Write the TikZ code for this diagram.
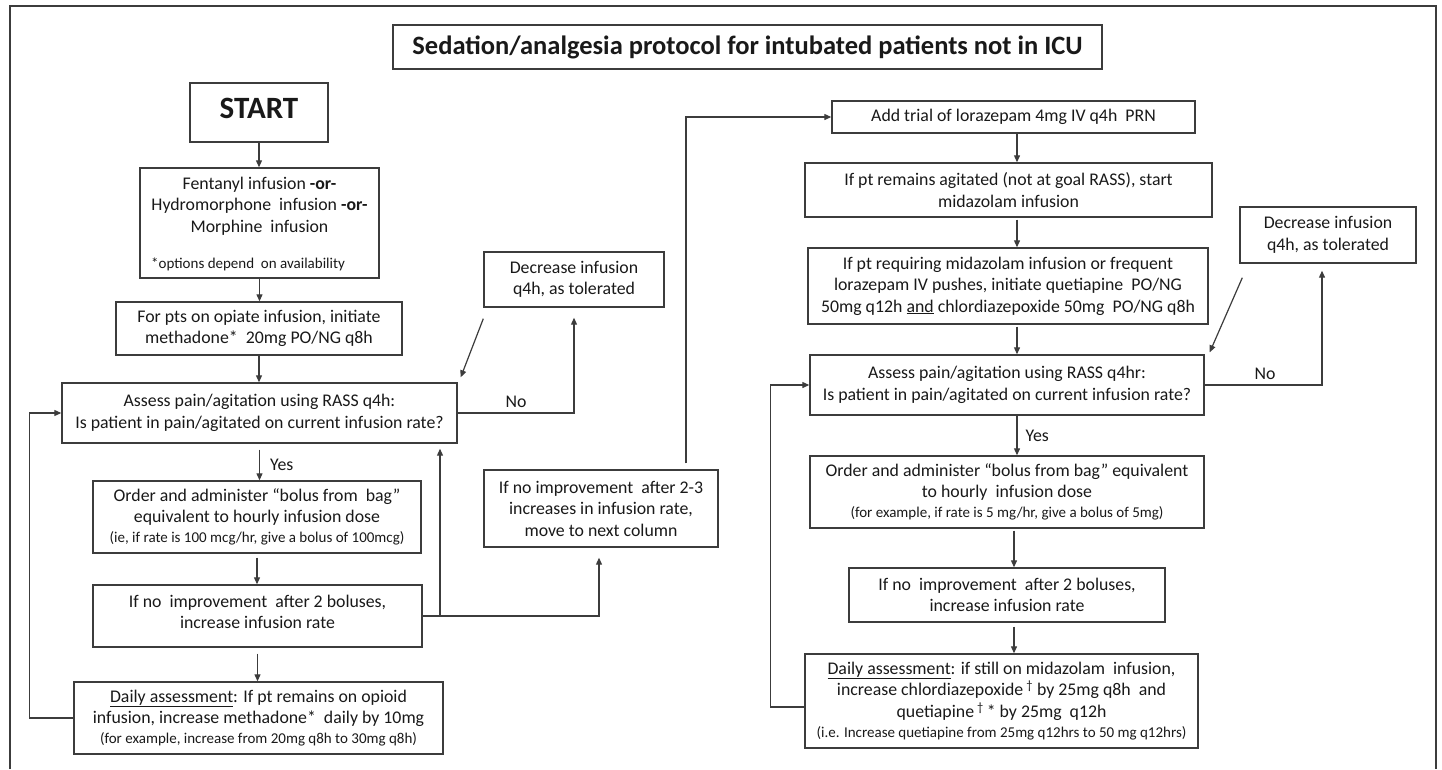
\documentclass[tikz,border=0pt]{standalone}
\usepackage{fontspec}
\setmainfont{Carlito}
\usetikzlibrary{arrows.meta,calc}
\definecolor{linec}{RGB}{60,60,60}
\definecolor{txtc}{RGB}{25,25,25}
\newcommand\bodyfnt{\fontsize{17.8}{21.5}\selectfont}
\newcommand\smallfnt{\fontsize{15}{18}\selectfont}
\newcommand\titlefnt{\fontsize{26.5}{30}\selectfont\bfseries}
\newcommand\startfnt{\fontsize{31}{34}\selectfont\bfseries}
\begin{document}
\begin{tikzpicture}[x=1pt,y=-1pt,
  box/.style={draw=linec, line width=1.4pt, fill=white, align=center, inner sep=0pt, text=txtc, font=\bodyfnt},
  txt/.style={align=center, inner sep=0pt, text=txtc, font=\bodyfnt},
  arr/.style={draw=linec, line width=1.2pt, -{Triangle[length=7pt,width=6pt]}},
  ln/.style={draw=linec, line width=1.2pt}]
\useasboundingbox (0,0) rectangle (1442,769);
\fill[white] (0,0) rectangle (1442,769);
% outer frame
\draw[draw=linec, line width=1.5pt] (10,769) -- (10,6) -- (1436,6) -- (1436,769);

% title
\node[box, font=\titlefnt, minimum width=709, minimum height=44] (title) at (747.5,47) {Sedation/analgesia protocol for intubated patients not in ICU};

% left column
\node[box, minimum width=138, minimum height=59] (start) at (259,112.5) {};
\node[txt, font=\startfnt] (starttxt) at (259,108) {START};
\node[box, minimum width=239, minimum height=110] (fent) at (259.5,223) {};
\node[txt] (fenttxt) at (259.5,206) {Fentanyl infusion \textbf{-or-}\\Hydromorphone\ \ infusion \textbf{-or-}\\Morphine\ \ infusion};
\node[txt, font=\smallfnt, anchor=west] (fentnote) at (151,264) {*options depend\ \ on availability};
\node[box, minimum width=286, minimum height=53] (meth) at (259,328.5) {For pts on opiate infusion, initiate\\methadone*\ \ 20mg PO/NG q8h};
\node[box, minimum width=180, minimum height=55] (decL) at (574,279.5) {Decrease infusion\\q4h, as tolerated};
\node[box, minimum width=395, minimum height=60] (assessL) at (259.5,413) {Assess pain/agitation using RASS q4h:\\Is patient in pain/agitated on current\ infusion rate?};
\node[box, minimum width=328, minimum height=72] (orderL) at (257,517) {Order and administer ``bolus from\ \ bag''\\equivalent to hourly infusion dose\\[-1.5pt]{\smallfnt (ie, if rate is 100 mcg/hr, give a bolus of 100mcg)}};
\node[box, minimum width=329, minimum height=62] (noimpL) at (257.5,616) {};
\node[txt] (noimpLtxt) at (257.5,612) {If no\ \ improvement\ \ after 2 boluses,\\increase infusion rate};
\node[box, minimum width=369, minimum height=72] (dailyL) at (258.5,718) {\underline{Daily assessment}: If pt remains on opioid\\infusion, increase methadone*\ \ daily by 10mg\\[-1.5pt]{\smallfnt (for example, increase from 20mg q8h to 30mg q8h)}};
\node[box, minimum width=234, minimum height=77] (next) at (601,508.5) {If no improvement\ \ after 2-3\\increases in infusion rate,\\move to next column};

% right column
\node[box, minimum width=363, minimum height=32] (add) at (1013.5,117) {Add trial of lorazepam 4mg IV q4h\ \ PRN};
\node[box, minimum width=407, minimum height=54] (remain) at (1008.5,190) {If pt remains agitated (not at goal RASS), start\\midazolam infusion};
\node[box, minimum width=400, minimum height=76] (require) at (1008,286) {If pt requiring midazolam infusion or frequent\\lorazepam IV pushes, initiate quetiapine\ \ PO/NG\\50mg q12h \underline{and} chlordiazepoxide 50mg\ \ PO/NG q8h};
\node[box, minimum width=176, minimum height=56] (decR) at (1328,235) {Decrease infusion\\q4h, as tolerated};
\node[box, minimum width=394, minimum height=60] (assessR) at (1007,385) {Assess pain/agitation using RASS q4hr:\\Is patient in pain/agitated on current infusion rate?};
\node[box, minimum width=394, minimum height=72] (orderR) at (1007,492) {Order and administer ``bolus from bag'' equivalent\\to hourly\ \ infusion dose\\[-1.5pt]{\smallfnt (for example, if rate is 5 mg/hr, give a bolus of 5mg)}};
\node[box, minimum width=316, minimum height=54] (noimpR) at (1007,595) {If no\ \ improvement\ \ after 2 boluses,\\increase infusion rate};
\node[box, minimum width=393, minimum height=94] (dailyR) at (1001.5,701) {\underline{Daily assessment}: if still on midazolam\ \ infusion,\\increase chlordiazepoxide\,\textsuperscript{†} by 25mg q8h\ \ and\\quetiapine\,\textsuperscript{†}\,* by 25mg\ \ q12h\\[-1.5pt]{\smallfnt (i.e. Increase quetiapine from 25mg q12hrs to 50 mg q12hrs)}};

% labels
\node[txt] (noL) at (516,402) {No};
\node[txt] (noR) at (1265,374) {No};

% helper coordinates
\coordinate (cxa) at (1017,0);
\coordinate (cxb) at (1014,0);
\coordinate (brL) at (440,616);
\coordinate (colx) at (686,0);

% left column connectors
\draw[arr] (start.south) -- (start.south |- fent.north);
\draw[arr] (fent.south) -- (fent.south |- meth.north);
\draw[arr] (meth.south) -- (meth.south |- assessL.north);
\draw[arr] ($(assessL.south)+(0,6)$) -- (assessL.south |- orderL.north) node[txt, midway, right=10pt] (yesL) {Yes};
\draw[arr] ($(orderL.south)+(0,4)$) -- (orderL.south |- noimpL.north);
\draw[arr] ($(noimpL.south)+(0,6)$) -- (noimpL.south |- dailyL.north);
\draw[arr] (noimpL.east) -| ($(next.south)+(-2,10)$);
\draw[arr] (brL) -- ($(brL |- assessL.south)+(0,5)$);
\draw[arr] (assessL.east) -| ($(decL.south)+(0,10)$);
\draw[arr] ($(decL.south west)+(0,11)$) -- ($(assessL.north east)+(3,-5)$);
\draw[arr] (dailyL.west) -- ++(-44,0) |- (assessL.west);
\draw[arr] ($(colx |- next.north)+(0,-6)$) |- (add.west);

% right column connectors
\draw[arr] (cxa |- add.south) -- (cxa |- remain.north);
\draw[arr] ($(cxa |- remain.south)+(0,2)$) -- (cxa |- require.north);
\draw[arr] ($(cxa |- require.south)+(0,2)$) -- (cxa |- assessR.north);
\draw[arr] (assessR.east) -| ($(decR.south)+(-6,7)$);
\draw[arr] ($(decR.south west)+(3,14)$) -- ($(assessR.north east)+(5,-2)$);
\draw[arr] (cxa |- assessR.south) -- (cxa |- orderR.north) node[txt, midway, right=8pt] (yesR) {Yes};
\draw[arr] ($(cxb |- orderR.south)+(0,2)$) -- (cxb |- noimpR.north);
\draw[arr] ($(cxb |- noimpR.south)+(0,4)$) -- (cxb |- dailyR.north);
\draw[arr] ($(dailyR.west)+(0,6)$) -- ++(-34,0) |- (assessR.west);
\end{tikzpicture}
\end{document}
